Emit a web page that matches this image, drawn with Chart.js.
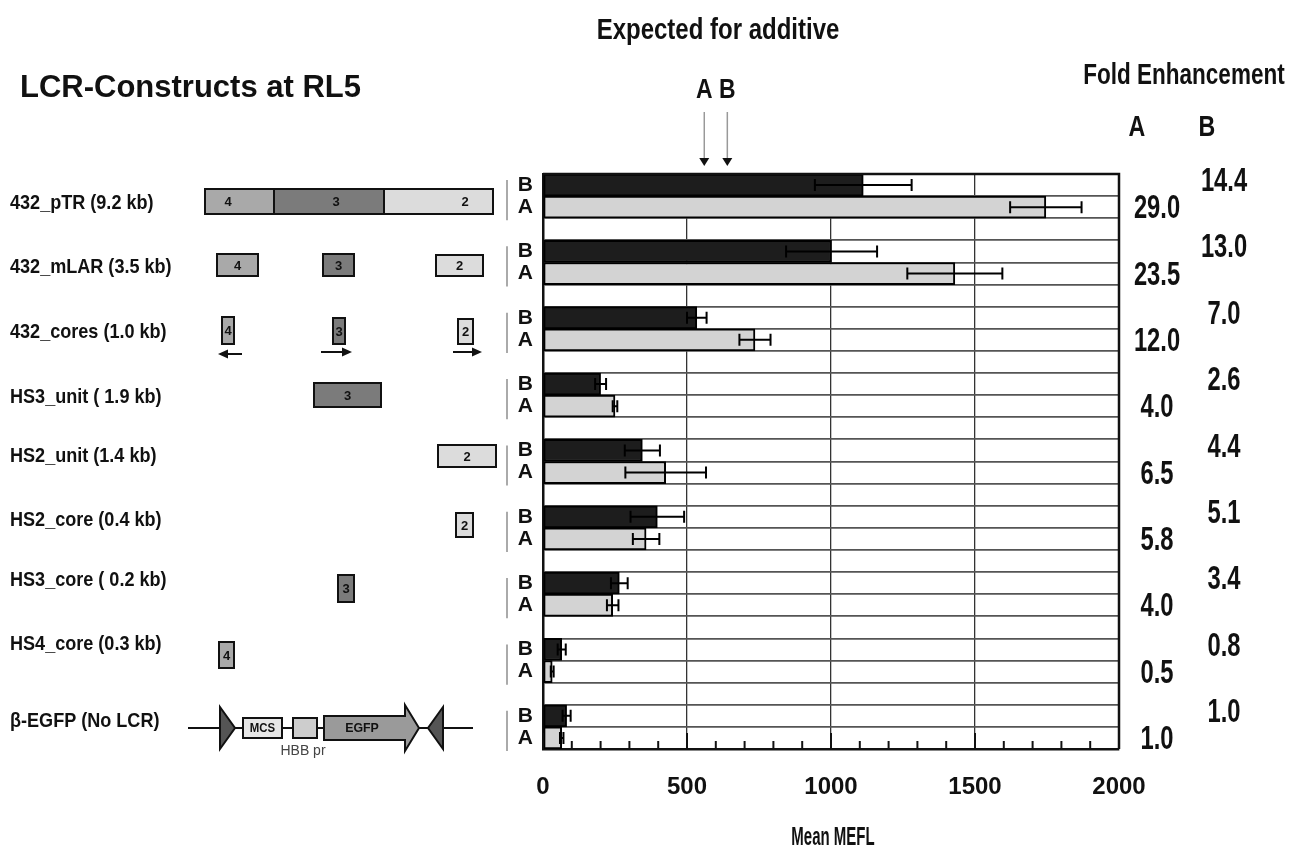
<!DOCTYPE html>
<html>
<head>
<meta charset="utf-8">
<script src="https://cdn.jsdelivr.net/npm/chart.js@4.4.1/dist/chart.umd.min.js"></script>
<style>
    html, body { margin: 0; padding: 0; background: #fff; }
    canvas { display: block; }
</style>
</head>
<body>
<canvas id="chart" width="1292" height="855"></canvas>
<script>
// data
const constructs = ['432_pTR (9.2 kb)', '432_mLAR (3.5 kb)', '432_cores (1.0 kb)', 'HS3_unit ( 1.9 kb)',
    'HS2_unit (1.4 kb)', 'HS2_core (0.4 kb)', 'HS3_core ( 0.2 kb)', 'HS4_core (0.3 kb)', '\u03b2-EGFP (No LCR)'];
const meanA = [1746, 1430, 736, 250, 426, 358, 242, 32, 65];
const errA = [124, 165, 54, 8, 140, 46, 20, 5, 6];
const meanB = [1112, 1002, 534, 200, 345, 397, 265, 65, 82];
const errB = [168, 158, 34, 19, 61, 93, 29, 14, 14];
const foldA = ['29.0', '23.5', '12.0', '4.0', '6.5', '5.8', '4.0', '0.5', '1.0'];
const foldB = ['14.4', '13.0', '7.0', '2.6', '4.4', '5.1', '3.4', '0.8', '1.0'];
const expectedA = 560;
const expectedB = 640;
const xMax = 2000;
const xStep = 500;
const minorStep = 100;

// rows: B, A, gap for every construct (no gap after the last one)
var rowLabels = [];
var rowGroup = [];
var dataB = [];
var dataA = [];
constructs.forEach((c, g) => {
    rowLabels.push('B'); rowGroup.push(g); dataB.push(meanB[g]); dataA.push(null);
    rowLabels.push('A'); rowGroup.push(g); dataB.push(null); dataA.push(meanA[g]);
    if (g < constructs.length - 1) {
        rowLabels.push(''); rowGroup.push(g); dataB.push(null); dataA.push(null);
    }
});

const SANS = "'Liberation Sans', Arial, sans-serif";

const HS4 = '#a9a9a9';
const HS3 = '#7b7b7b';
const HS2 = '#dcdcdc';

// left panel layout (pixel positions of the schematic drawings)
const leftLabelY = [203, 267, 332, 397, 456, 520, 580, 644, 721];

function txt(ctx, s, x, y, size, sx, align, weight, color) {
    ctx.save();
    ctx.font = (weight || 'bold') + ' ' + size + 'px ' + SANS;
    ctx.fillStyle = color || '#111';
    ctx.textBaseline = 'middle';
    ctx.textAlign = align || 'center';
    ctx.translate(x, y);
    ctx.scale(sx, 1);
    ctx.fillText(s, 0, 0);
    ctx.restore();
}

function box(ctx, x0, y0, x1, y1, fill, label) {
    ctx.save();
    ctx.fillStyle = fill;
    ctx.fillRect(x0, y0, x1 - x0, y1 - y0);
    ctx.strokeStyle = '#111';
    ctx.lineWidth = 2;
    ctx.strokeRect(x0, y0, x1 - x0, y1 - y0);
    ctx.restore();
    if (label) txt(ctx, label, (x0 + x1) / 2, (y0 + y1) / 2 + 1, 13, 1, 'center');
}

function arrow(ctx, x0, x1, y) {
    const dir = x1 > x0 ? 1 : -1;
    ctx.save();
    ctx.strokeStyle = '#111';
    ctx.fillStyle = '#111';
    ctx.lineWidth = 2;
    ctx.beginPath();
    ctx.moveTo(x0, y);
    ctx.lineTo(x1 - dir * 8, y);
    ctx.stroke();
    ctx.beginPath();
    ctx.moveTo(x1, y);
    ctx.lineTo(x1 - dir * 10, y - 4.5);
    ctx.lineTo(x1 - dir * 10, y + 4.5);
    ctx.closePath();
    ctx.fill();
    ctx.restore();
}

function drawSchematics(ctx) {
    // 432_pTR
    box(ctx, 205, 189, 274, 214, HS4);
    box(ctx, 274, 189, 384, 214, HS3);
    box(ctx, 384, 189, 493, 214, HS2);
    txt(ctx, '4', 228, 202, 13, 1);
    txt(ctx, '3', 336, 202, 13, 1);
    txt(ctx, '2', 465, 202, 13, 1);
    // 432_mLAR
    box(ctx, 217, 254, 258, 276, HS4, '4');
    box(ctx, 323, 254, 354, 276, HS3, '3');
    box(ctx, 436, 255, 483, 276, HS2, '2');
    // 432_cores
    box(ctx, 222, 317, 234, 344, HS4, '4');
    box(ctx, 333, 318, 345, 344, HS3, '3');
    box(ctx, 458, 319, 473, 344, HS2, '2');
    arrow(ctx, 242, 218, 354);
    arrow(ctx, 321, 352, 352);
    arrow(ctx, 453, 482, 352);
    // HS3_unit, HS2_unit
    box(ctx, 314, 383, 381, 407, HS3, '3');
    box(ctx, 438, 445, 496, 467, HS2, '2');
    // cores
    box(ctx, 456, 513, 473, 537, HS2, '2');
    box(ctx, 338, 575, 354, 602, HS3, '3');
    box(ctx, 219, 642, 234, 668, HS4, '4');

    // beta-EGFP cassette
    ctx.save();
    ctx.strokeStyle = '#111';
    ctx.lineWidth = 2;
    ctx.beginPath();
    ctx.moveTo(188, 728);
    ctx.lineTo(473, 728);
    ctx.stroke();
    ctx.fillStyle = '#555';
    ctx.beginPath();
    ctx.moveTo(220, 707); ctx.lineTo(220, 749); ctx.lineTo(235, 728); ctx.closePath();
    ctx.fill(); ctx.stroke();
    ctx.beginPath();
    ctx.moveTo(443, 707); ctx.lineTo(443, 749); ctx.lineTo(428, 728); ctx.closePath();
    ctx.fill(); ctx.stroke();
    ctx.fillStyle = '#9a9a9a';
    ctx.beginPath();
    ctx.moveTo(324, 716); ctx.lineTo(405, 716); ctx.lineTo(405, 705); ctx.lineTo(419, 728);
    ctx.lineTo(405, 751); ctx.lineTo(405, 740); ctx.lineTo(324, 740); ctx.closePath();
    ctx.fill(); ctx.stroke();
    ctx.restore();
    box(ctx, 243, 718, 282, 738, '#e6e6e6');
    box(ctx, 293, 718, 317, 738, '#cdcdcd');
    txt(ctx, 'MCS', 262.5, 728.5, 12, 0.95);
    txt(ctx, 'EGFP', 362, 728.5, 13, 0.95);
    txt(ctx, 'HBB pr', 303, 751, 14, 1, 'center', 'normal', '#444');
}

const decorations = {
    id: 'decorations',
    afterDatasetsDraw(chart) {
        const { ctx, chartArea: a, scales: { x, y } } = chart;

        // error bars
        ctx.save();
        ctx.strokeStyle = '#000';
        ctx.lineWidth = 2;
        chart.data.datasets.forEach((ds, di) => {
            const meta = chart.getDatasetMeta(di);
            meta.data.forEach((bar, i) => {
                if (ds.data[i] == null) return;
                const e = ds.errors[rowGroup[i]];
                const lo = x.getPixelForValue(ds.data[i] - e);
                const hi = x.getPixelForValue(ds.data[i] + e);
                const yy = bar.y;
                ctx.beginPath();
                ctx.moveTo(lo, yy); ctx.lineTo(hi, yy);
                ctx.moveTo(lo, yy - 6); ctx.lineTo(lo, yy + 6);
                ctx.moveTo(hi, yy - 6); ctx.lineTo(hi, yy + 6);
                ctx.stroke();
            });
        });

        // frame top/right
        ctx.lineWidth = 2.5;
        ctx.strokeStyle = '#111';
        ctx.beginPath();
        ctx.moveTo(a.left, a.top); ctx.lineTo(a.right, a.top); ctx.lineTo(a.right, a.bottom);
        ctx.stroke();

        // inward ticks on the value axis
        ctx.lineWidth = 2;
        for (let v = 0; v <= xMax; v += minorStep) {
            const px = x.getPixelForValue(v);
            const len = v % xStep === 0 ? 16 : 8;
            ctx.beginPath();
            ctx.moveTo(px, a.bottom);
            ctx.lineTo(px, a.bottom - len);
            ctx.stroke();
        }
        ctx.restore();
    },
    afterDraw(chart) {
        const { ctx, chartArea: a, scales: { x, y } } = chart;
        const rowH = y.getPixelForValue(1) - y.getPixelForValue(0);

        // titles
        txt(ctx, 'Expected for additive', 718, 31, 30, 0.8);
        txt(ctx, 'LCR-Constructs at RL5', 20, 88, 31, 1.0, 'left');
        txt(ctx, 'Fold Enhancement', 1184, 76, 30, 0.75);
        txt(ctx, 'A', 1137, 128, 29, 0.8);
        txt(ctx, 'B', 1207, 128, 29, 0.8);
        txt(ctx, 'Mean MEFL', (a.left + a.right) / 2 + 2, 838, 25, 0.6);

        // expected additive arrows
        [[expectedA, 'A'], [expectedB, 'B']].forEach(([v, lab]) => {
            const px = x.getPixelForValue(v);
            txt(ctx, lab, px, 91, 27, 0.85);
            ctx.save();
            ctx.strokeStyle = '#999';
            ctx.lineWidth = 1.5;
            ctx.beginPath();
            ctx.moveTo(px, 112);
            ctx.lineTo(px, 159);
            ctx.stroke();
            ctx.fillStyle = '#111';
            ctx.beginPath();
            ctx.moveTo(px - 5, 158); ctx.lineTo(px + 5, 158); ctx.lineTo(px, 166);
            ctx.closePath();
            ctx.fill();
            ctx.restore();
        });

        constructs.forEach((c, g) => {
            const yB = y.getPixelForValue(g * 3);
            const yA = y.getPixelForValue(g * 3 + 1);
            // bracket left of B/A labels
            ctx.save();
            ctx.strokeStyle = '#aaa';
            ctx.lineWidth = 2;
            ctx.beginPath();
            ctx.moveTo(507, yB - rowH / 2 + 6);
            ctx.lineTo(507, yA + rowH / 2 + 2);
            ctx.stroke();
            ctx.restore();
            // fold enhancement
            txt(ctx, foldA[g], 1157, yA + 2, 33, 0.72);
            txt(ctx, foldB[g], 1224, yB - 3, 33, 0.72);
            // construct names
            txt(ctx, c, 10, leftLabelY[g], 21, 0.86, 'left');
        });

        drawSchematics(ctx);
    }
};

const chart = new Chart(document.getElementById('chart'), {
    type: 'bar',
    data: {
        labels: rowLabels,
        datasets: [{
            label: 'B',
            data: dataB,
            errors: errB,
            backgroundColor: '#1d1d1d',
            borderColor: '#000',
            borderWidth: 2,
            borderSkipped: false,
            grouped: false,
            barPercentage: 1,
            categoryPercentage: 1
        },
        {
            label: 'A',
            data: dataA,
            errors: errA,
            backgroundColor: '#d3d3d3',
            borderColor: '#000',
            borderWidth: 2,
            borderSkipped: false,
            grouped: false,
            barPercentage: 1,
            categoryPercentage: 1
        }]
    },
    options: {
        indexAxis: 'y',
        responsive: false,
        animation: false,
        layout: { padding: { left: 0, top: 174, right: 173, bottom: 0 } },
        plugins: {
            legend: { display: false },
            tooltip: { enabled: false }
        },
        scales: {
            x: {
                min: 0,
                max: xMax,
                afterFit: (scale) => { scale.height = 106; },
                border: { display: true, color: '#111', width: 2.5 },
                grid: { color: '#333', lineWidth: 1.3, drawTicks: false },
                ticks: {
                    stepSize: xStep,
                    padding: 24,
                    color: '#111',
                    callback: (v) => String(v),
                    font: { family: SANS, size: 24, weight: 'bold' }
                }
            },
            y: {
                afterFit: (scale) => { scale.width = 543; },
                border: { display: true, color: '#111', width: 2.5 },
                grid: { color: '#555', lineWidth: 1.8, drawTicks: false },
                ticks: {
                    autoSkip: false,
                    padding: 10,
                    color: '#111',
                    font: { family: SANS, size: 21, weight: 'bold' }
                }
            }
        }
    },
    plugins: [decorations]
});
</script>
</body>
</html>
